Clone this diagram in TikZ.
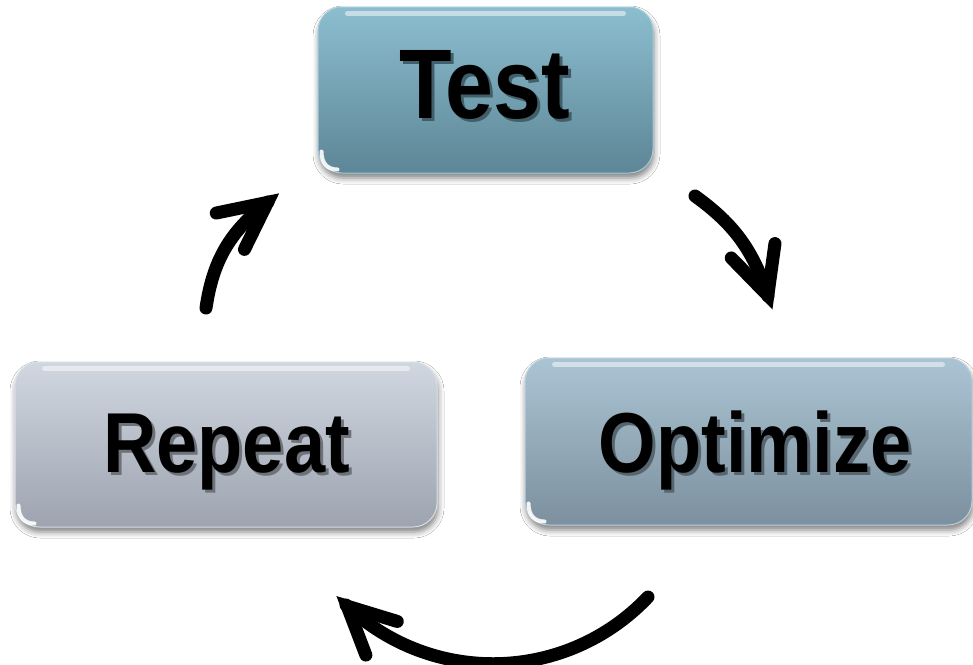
\documentclass[tikz,border=0pt]{standalone}
\usepackage{fontspec}
\setmainfont{Liberation Sans}
\usetikzlibrary{shadows.blur,decorations.markings}

\definecolor{testtop}{HTML}{8CBED0}
\definecolor{testbot}{HTML}{5D8696}
\definecolor{opttop}{HTML}{ABC4D3}
\definecolor{optbot}{HTML}{7C909F}
\definecolor{reptop}{HTML}{D0D7E1}
\definecolor{repbot}{HTML}{9DA4AF}

\tikzset{
  cycbox/.style={rounded corners=24pt, inner sep=0pt, line width=1pt,
    blur shadow={shadow xshift=1pt, shadow yshift=-5pt, shadow blur radius=6pt, shadow opacity=50}},
  testbox/.style={cycbox, top color=testtop, bottom color=testbot, draw=testtop!80!white,
    minimum width=335pt, minimum height=166pt},
  optbox/.style={cycbox, top color=opttop, bottom color=optbot, draw=opttop!80!white,
    minimum width=447pt, minimum height=167pt},
  repbox/.style={cycbox, top color=reptop, bottom color=repbot, draw=reptop!80!white,
    minimum width=422pt, minimum height=165pt},
  gloss/.style={white, opacity=0.5, line width=5pt, line cap=round},
  corner/.style={white, opacity=0.9, line width=4pt, line cap=round},
  lbl/.style={anchor=base, inner sep=0pt, text=black},
  cycarrow/.style={line width=13pt, line cap=round, postaction={decorate},
    decoration={markings, mark=at position 0.995 with {
      \draw[line width=13pt, line cap=round, line join=miter, miter limit=10]
        (-47pt,23pt) -- (0pt,0pt) -- (-47pt,-23pt);}}}
}

% big label with a soft drop shadow (#1 size, #2 shadow colour, #3 text)
\newcommand{\bigtxt}[3]{\fontsize{#1}{#1}\selectfont\bfseries\scalebox{1}[1.15]{%
  \rlap{\hspace{3pt}\raisebox{-3pt}{\color{#2}#3}}#3}}

\begin{document}
\begin{tikzpicture}[x=1pt, y=-1pt]
\useasboundingbox (0,0) rectangle (973,664);
\fill[white] (0,0) rectangle (973,664);

% boxes
\node[testbox] (T) at (485.5,90) {};
\node[optbox]  (O) at (748.5,441.5) {};
\node[repbox]  (R) at (226,444.5) {};

% glossy highlights
\draw[gloss] ([xshift=30pt,yshift=-7pt]T.north west) -- ([xshift=-30pt,yshift=-7pt]T.north east);
\draw[gloss] ([xshift=30pt,yshift=-7pt]O.north west) -- ([xshift=-30pt,yshift=-7pt]O.north east);
\draw[gloss] ([xshift=30pt,yshift=-7pt]R.north west) -- ([xshift=-30pt,yshift=-7pt]R.north east);

\draw[corner] ([xshift=4pt,yshift=22pt]T.south west) .. controls ([xshift=4pt,yshift=10pt]T.south west) and ([xshift=10pt,yshift=4pt]T.south west) .. ([xshift=20pt,yshift=4pt]T.south west);
\draw[corner] ([xshift=4pt,yshift=22pt]O.south west) .. controls ([xshift=4pt,yshift=10pt]O.south west) and ([xshift=10pt,yshift=4pt]O.south west) .. ([xshift=20pt,yshift=4pt]O.south west);
\draw[corner] ([xshift=4pt,yshift=22pt]R.south west) .. controls ([xshift=4pt,yshift=10pt]R.south west) and ([xshift=10pt,yshift=4pt]R.south west) .. ([xshift=20pt,yshift=4pt]R.south west);

% labels
\node[lbl] (Tl) at (485,118) {\bigtxt{86}{testbot!70!black}{Test}};
\node[lbl] (Ol) at (755,472) {\bigtxt{74}{optbot!70!black}{Optimize}};
\node[lbl] (Rl) at (226.5,472) {\bigtxt{74}{repbot!70!black}{Repeat}};

% arrows
\coordinate (a1s) at (695,196);
\coordinate (a1e) at (768,296);
\coordinate (a2s) at (648,597);
\coordinate (a2e) at (346,605);
\coordinate (a3s) at (206,308);
\coordinate (a3e) at (268,202);

\draw[cycarrow] (a1s) to[bend left=18] (a1e);
\draw[cycarrow] (a2s) to[bend left=45] (a2e);
\draw[cycarrow] (a3s) to[bend left=22] (a3e);
\end{tikzpicture}
\end{document}
